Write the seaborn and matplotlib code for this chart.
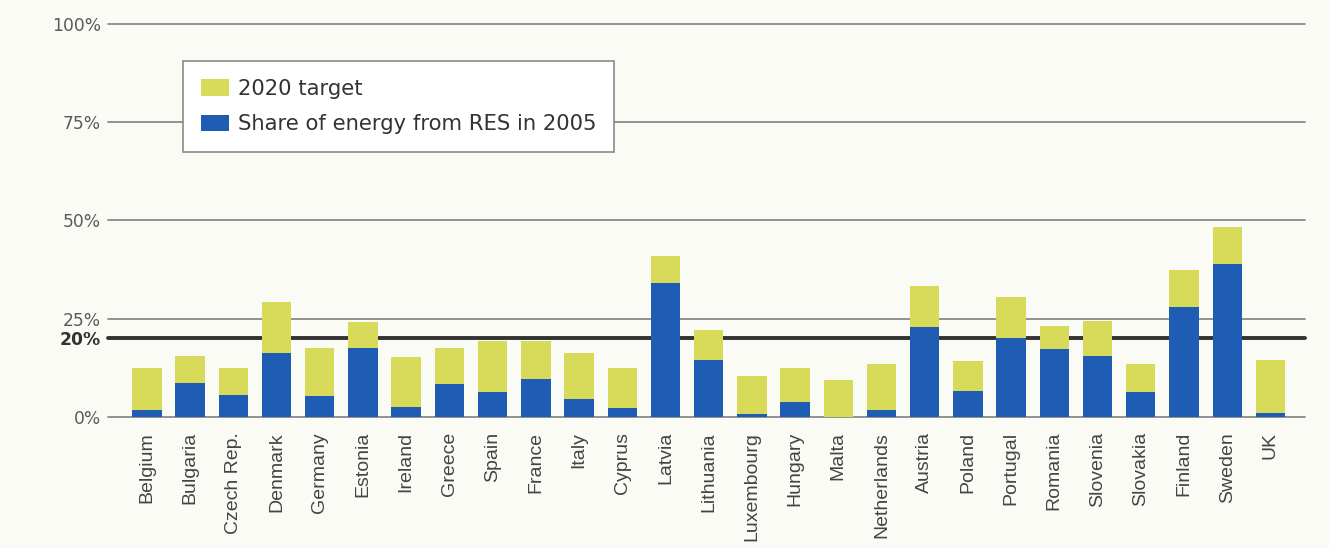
import matplotlib
matplotlib.use("Agg")
import matplotlib.pyplot as plt
from matplotlib.patches import Patch
import seaborn as sns
import pandas as pd

countries = ["Belgium", "Bulgaria", "Czech Rep.", "Denmark", "Germany", "Estonia",
             "Ireland", "Greece", "Spain", "France", "Italy", "Cyprus", "Latvia",
             "Lithuania", "Luxembourg", "Hungary", "Malta", "Netherlands", "Austria",
             "Poland", "Portugal", "Romania", "Slovenia", "Slovakia", "Finland",
             "Sweden", "UK"]
target_2020 = [12.3, 15.4, 12.3, 29.3, 17.4, 24.2, 15.3, 17.4, 19.4, 19.4, 16.3, 12.3,
               41.0, 22.2, 10.4, 12.3, 9.3, 13.4, 33.4, 14.3, 30.4, 23.2, 24.3, 13.5,
               37.3, 48.3, 14.5]
share_2005 = [1.7, 8.7, 5.5, 16.3, 5.3, 17.6, 2.5, 8.2, 6.4, 9.7, 4.5, 2.3,
              34.1, 14.4, 0.7, 3.8, 0.0, 1.7, 22.8, 6.6, 20.0, 17.2, 15.5, 6.2,
              28.0, 39.0, 0.9]
ytick_values = [0, 20, 25, 50, 75, 100]
ytick_labels = ["0%", "20%", "25%", "50%", "75%", "100%"]
legend_labels = ["2020 target", "Share of energy from RES in 2005"]

YELLOW = "#d8db5a"
BLUE = "#1f5db5"
BG = "#fbfbf6"

sns.set_style("white")
plt.rcParams["font.family"] = ["DejaVu Sans"]

df = pd.DataFrame({"country": countries, "target": target_2020, "share": share_2005})

W, H = 1329, 548
fig = plt.figure(figsize=(W / 100, H / 100), dpi=100, facecolor=BG)
ax = fig.add_axes([108 / W, 1 - 416.7 / H, (1305 - 108) / W, (416.7 - 24) / H])
ax.set_facecolor(BG)

sns.barplot(data=df, x="country", y="target", color=YELLOW, saturation=1,
            width=0.68, errorbar=None, ax=ax, zorder=3, linewidth=0)
sns.barplot(data=df, x="country", y="share", color=BLUE, saturation=1,
            width=0.68, errorbar=None, ax=ax, zorder=4, linewidth=0)

# horizontal reference lines
for v in [0, 25, 50, 75, 100]:
    ax.axhline(v, color="#8a8a8a", lw=1.3, zorder=1, clip_on=False)
ax.axhline(20, color="#333333", lw=2.8, zorder=2, clip_on=False)

ax.set_xlim(-0.9, 26.8)
ax.set_ylim(0, 100)
ax.set_xlabel("")
ax.set_ylabel("")
for s in ax.spines.values():
    s.set_visible(False)

ax.set_yticks(ytick_values)
ax.set_yticklabels(ytick_labels, fontsize=12.3, color="#5a5a5a")
for lbl in ax.get_yticklabels():
    if lbl.get_text() == "20%":
        lbl.set_fontweight("bold")
        lbl.set_color("#333333")
ax.tick_params(axis="y", length=0, pad=5)

ax.set_xticks(range(len(countries)))
ax.set_xticklabels(countries, rotation=90, fontsize=14, color="#444444",
                   family="Liberation Sans")
ax.tick_params(axis="x", length=0, pad=11)

handles = [Patch(facecolor=YELLOW, edgecolor="none"),
           Patch(facecolor=BLUE, edgecolor="none")]
leg = fig.legend(handles, legend_labels, loc="upper left",
                 bbox_to_anchor=(182.7 / W, 1 - 61 / H), bbox_transform=fig.transFigure,
                 frameon=True, fancybox=False, fontsize=15.2, labelcolor="#333333",
                 handlelength=1.35, handleheight=0.82, handletextpad=0.42,
                 labelspacing=0.72, borderpad=0.85, borderaxespad=0)
leg.get_frame().set_edgecolor("#8a8a8a")
leg.get_frame().set_linewidth(1.2)
leg.get_frame().set_facecolor("white")
leg.get_frame().set_alpha(1)

fig.savefig("out.png", dpi=100, facecolor=BG)
